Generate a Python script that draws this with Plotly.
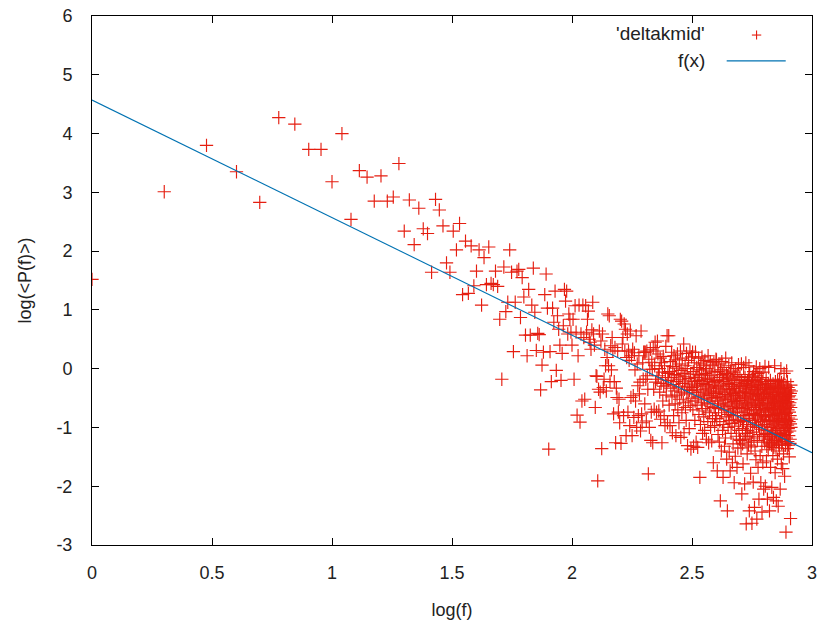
import numpy as np
import plotly.graph_objects as go

# ---- data: log(<P(f)>) for frequency index f = 1 .. 820 ----
y_f001_040 = [1.52, 3.01, 3.80, 3.35, 2.83, 4.27, 4.16, 3.73, 3.73, 3.18,
              4.00, 2.54, 3.37, 3.26, 2.85, 3.28, 2.85, 2.92, 3.49, 2.34,
              2.87, 2.11, 2.73, 2.38, 2.30, 1.64, 2.88, 2.70, 2.43, 1.80,
              1.64, 2.34, 2.02, 2.47, 1.26, 2.17, 1.28, 2.09, 1.41, 1.66]
y_f041_100 = [2.02, 1.08, 1.89, 1.43, 2.07, 1.45, 1.43, 1.66, 1.40, 0.84,
              -0.18, 1.73, 0.97, 1.13, 2.02, 1.64, 0.29, 1.13, 1.66, 1.69,
              0.87, 1.55, 1.22, 0.57, 0.22, 1.35, 0.57, 1.08, 1.71, 0.96,
              0.31, 0.60, 0.58, -0.36, 0.06, 0.28, 1.26, 1.61, 1.03, -1.37,
              0.29, -0.22, 1.03, 0.79, 1.32, -0.03, 0.90, 0.67, 0.40, -0.20,
              0.26, 0.73, 1.35, 1.15, 1.32, 0.59, 0.93, 0.84, 0.62, 0.40]
y_f101_126 = [0.84, -0.18, 1.07, 0.62, -0.79, 0.22, 1.08, -0.91, 0.59, -0.55,
              1.08, 0.53, -0.52, 1.07, 0.62, 0.84, 0.98, 0.50, 0.45, 0.33,
              0.66, 1.13, 0.59, 0.40, -0.66, -0.12]
y_f127_158 = [-0.13, -1.91, -0.35, 0.64, -0.40, 0.47, -1.36, 0.59, -0.32, -0.18,
              0.33, 0.05, -0.38, 0.19, 0.93, 0.05, 0.90, -0.22, 0.39, -0.02,
              0.53, 0.30, -0.77, -0.22, 0.36, -1.26, -0.33, -0.49, 0.30, -0.74,
              -0.52, -0.92]
y_f159_199 = [0.84, -1.27, 0.81, 0.42, 0.53, -0.80, 0.76, 0.30, 0.67, -1.14,
              0.19, 0.59, -0.74, 0.30, 0.14, -0.97, 0.64, -0.49, 0.22, -1.14,
              0.33, -0.46, -0.83, 0.27, -0.02, -0.55, 0.56, -1.00, 0.08, -0.29,
              -0.80, 0.22, -0.43, -0.23, -1.06, 0.64, -0.77, -0.92, 0.10, -0.18,
              0.28]
y_f200_251 = [0.28, -0.60, 0.28, -0.18, -0.89, 0.30, -0.12, -0.35, -1.79, 0.16,
              -1.00, -0.01, 0.33, -1.22, -0.74, 0.11, -0.01, -1.26, 0.36, -0.35,
              -0.69, 0.05, 0.45, -0.23, 0.30, -0.74, -0.18, 0.47, 0.25, -0.12,
              -0.72, 0.00, -0.40, 0.18, -0.86, -0.25, 0.10, -1.26, -0.06, -0.55,
              0.21, -0.30, -0.80, 0.05, -0.97, -0.15, 0.38, -0.45, -0.28, 0.56,
              -0.92, -0.08]
y_f252_316 = [-0.20, 0.56, -0.62, -0.05, -0.97, 0.12, -0.33, -0.15, 0.28, -0.48,
              -1.09, 0.04, -0.27, -0.80, 0.22, -0.10, -0.38, -0.60, 0.15, -1.14,
              -0.22, 0.01, -0.45, 0.25, -0.70, -0.12, -0.31, -0.92, 0.08, -0.52,
              -0.18, 0.30, -1.17, -0.03, -0.40, -0.75, 0.18, -0.25, -0.08, -0.58,
              0.42, -1.09, -0.35, -0.14, 0.05, -0.66, -0.21, -0.88, 0.26, -0.43,
              0.00, -1.31, -0.30, -0.55, 0.14, -0.17, -1.02, -0.37, 0.30, -0.63,
              -0.09, -1.37, -0.26, 0.20, -0.50]
y_f317_398 = [-0.32, 0.28, -0.70, -0.05, -1.32, -0.41, 0.10, -0.22, -0.88, -0.55,
              0.28, -0.15, -1.25, -0.35, 0.02, -0.62, -0.28, -1.34, -0.10, -0.48,
              0.18, -0.78, -0.20, -0.02, -1.85, -0.40, -0.95, 0.08, -0.30, -0.58,
              -0.12, 0.20, -0.68, -1.10, -0.25, -0.45, 0.05, -0.82, -0.18, -0.52,
              -1.05, 0.14, -0.36, -0.08, -0.72, -0.27, -1.20, 0.00, -0.43, -0.60,
              -0.16, -0.90, 0.22, -0.33, -1.26, -0.50, -0.04, -0.75, -0.22, -0.38,
              0.12, -1.00, -0.64, -0.11, -0.46, -1.23, -0.29, 0.06, -0.85, -0.55,
              -0.19, -1.60, -0.40, 0.10, -0.66, -0.24, -0.97, -0.06, -0.49, -0.80,
              -0.31, 0.16]
y_f399_501 = [-0.42, 0.15, -0.85, -0.20, -1.74, -0.55, -0.05, -1.12, -0.33, -0.68,
              0.08, -0.47, -1.25, -0.15, -0.90, -0.38, -2.25, -0.02, -0.60, -0.28,
              -1.40, -0.75, 0.12, -0.50, -0.10, -1.05, -0.35, -1.85, -0.62, -0.22,
              -0.95, 0.02, -0.44, -1.32, -0.70, -0.18, -0.53, -1.18, 0.18, -0.40,
              -0.82, -0.08, -1.54, -0.30, -0.65, -2.42, -0.12, -0.48, -1.00, -0.25,
              -0.78, 0.05, -0.58, -1.42, -0.36, -0.88, -0.16, -1.74, -0.45, -0.04,
              -0.72, -1.10, -0.27, -0.52, 0.10, -0.93, -0.34, -1.60, -0.64, -0.20,
              -1.28, -0.42, -0.80, -0.06, -0.56, -1.94, -0.31, -0.98, -0.14, -0.68,
              -1.49, -0.46, 0.00, -0.86, -0.24, -1.15, -0.60, -0.38, -1.68, -0.10,
              -0.74, -0.50, -1.35, -0.19, -0.92, 0.07, -0.41, -1.05, -0.66, -0.28,
              -1.20, -0.54, -0.13]
y_f502_630 = [-0.45, -1.22, -0.88, -0.30, -1.35, -0.62, 0.08, -0.20, -2.13, -0.75,
              -0.40, -1.02, -1.28, -0.55, -1.62, -0.33, -0.90, 0.02, -0.68, -1.20,
              -0.25, -0.48, -1.96, -0.80, -0.15, -0.58, -1.10, -0.38, 0.10, -0.72,
              -2.64, -0.28, -0.95, -0.50, -1.15, -1.45, -0.65, -0.22, -1.05, -0.42,
              -0.85, -0.18, -1.30, -0.60, 0.05, -0.35, -2.42, -0.78, -0.10, -1.15,
              -0.52, -0.30, -0.98, -1.78, -0.45, -1.33, -0.70, -1.25, -0.26, -0.62,
              -2.63, -0.40, -0.88, -0.14, -1.08, -0.55, -0.32, -1.93, -0.76, -0.05,
              -0.48, -1.18, -0.20, -0.92, -2.36, -0.36, -0.66, -1.40, -0.12, -0.58,
              -0.84, -0.28, -1.55, -0.44, 0.03, -1.00, -0.70, -2.56, -0.24, -0.52,
              -1.22, -0.38, -0.80, -0.08, -1.68, -0.62, -0.30, -0.96, -0.46, -2.22,
              -0.18, -0.74, -1.12, -0.54, 0.00, -0.35, -1.48, -0.86, -0.27, -0.64,
              -1.94, -0.42, -1.03, -0.15, -0.78, -0.50, -1.32, -2.44, -0.22, -0.60,
              -0.90, -0.33, -1.60, -0.06, -0.70, -1.15, -0.47, -2.05, -0.82]
y_f631_820 = [-0.50, -1.15, -0.95, -0.35, -1.25, -0.68, 0.04, -0.42, -2.00, -0.80,
              -0.28, -1.10, -0.58, -0.18, -0.88, -1.57, -0.40, -1.32, -0.72, -1.05,
              -0.32, -2.22, -0.62, -1.18, -0.98, -0.48, -1.38, -0.25, -0.78, 0.02,
              -0.55, -1.20, -0.36, -0.90, -2.42, -1.28, -0.66, -1.15, -0.44, -0.82,
              -0.20, -1.68, -0.52, -0.30, -1.00, -0.70, -1.12, -1.30, -0.60, -2.02,
              -0.38, -0.86, -1.26, -1.12, -0.50, -0.74, -1.48, -0.26, -0.94, -0.45,
              -2.19, -0.64, -1.34, -1.05, -0.34, -0.80, -1.22, -0.55, 0.05, -0.90,
              -0.40, -1.77, -0.70, -0.22, -1.08, -0.58, -0.30, -1.35, -0.84, -2.25,
              -0.48, -1.22, -0.96, -0.62, -1.18, -0.36, -0.76, -1.54, -0.20, -0.68,
              -1.02, -0.44, -2.34, -0.88, -0.28, -1.25, -0.56, -1.30, -0.92, -0.40,
              -1.40, -0.72, -0.18, -1.10, -0.52, -0.85, -2.05, -0.32, -0.64, -1.15,
              -0.46, 0.00, -0.98, -0.60, -1.62, -0.24, -0.78, -1.28, -0.42, -0.70,
              -0.90, -1.24, -1.20, -0.54, -1.70, -0.34, -0.82, -1.05, -0.48, -0.66,
              -1.45, -0.26, -0.95, -0.58, -0.08, -1.12, -0.74, -0.38, -1.83, -0.86,
              -0.50, -1.00, -1.14, -0.68, -1.30, -0.44, -0.92, -0.60, -2.78, -0.30,
              -0.76, -1.18, -0.52, -0.04, -0.88, -1.08, -0.40, -0.64, -1.36, -0.22,
              -0.96, -0.56, -1.24, -0.70, -0.32, -1.02, -0.48, -0.84, -1.30, -1.14,
              -0.62, -0.90, -0.36, -1.50, -0.74, -0.46, -1.06, -0.58, -1.27, -0.80,
              -1.20, -0.42, -0.94, -2.55, -0.66, -0.28, -1.00, -0.52, -0.86, -0.38]

# fitted line f(x) = fit_a + fit_b * x
fit_a = 4.57
fit_b = -2.0

x_ticks = [0, 0.5, 1, 1.5, 2, 2.5, 3]
x_ticktext = ["0", "0.5", "1", "1.5", "2", "2.5", "3"]
y_ticks = [-3, -2, -1, 0, 1, 2, 3, 4, 5, 6]
y_ticktext = ["-3", "-2", "-1", "0", "1", "2", "3", "4", "5", "6"]

series_name = "'deltakmid'"
fit_name = "f(x)"

# ---- build ----
log_p = np.concatenate([y_f001_040, y_f041_100, y_f101_126, y_f127_158, y_f159_199,
                        y_f200_251, y_f252_316, y_f317_398, y_f399_501, y_f502_630,
                        y_f631_820])
freq = np.arange(1, len(log_p) + 1)
log_f = np.log10(freq)

x_fit = np.array([0.0, 3.0])
y_fit = fit_a + fit_b * x_fit

RED = "#e51e10"
BLUE = "#0072b2"
FONT = "Liberation Sans, Arial, sans-serif"
TXT = "#222222"

fig = go.Figure()
fig.add_trace(go.Scatter(
    x=log_f, y=log_p, mode="markers", name=series_name,
    marker=dict(symbol="cross-thin", size=9.5, color=RED,
                line=dict(color=RED, width=1.15)),
    showlegend=False, cliponaxis=True))
fig.add_trace(go.Scatter(
    x=x_fit, y=y_fit, mode="lines", name=fit_name,
    line=dict(color=BLUE, width=1.1), showlegend=False))

axis_common = dict(showline=True, linecolor="black", linewidth=1,
                   mirror="ticks", ticks="inside", ticklen=7, tickwidth=1,
                   tickcolor="black", showgrid=False, zeroline=False,
                   automargin=False,
                   tickfont=dict(family=FONT, size=18, color=TXT))

fig.update_xaxes(range=[0, 3], tickmode="array", tickvals=x_ticks,
                 ticktext=x_ticktext, ticklabelstandoff=11,
                 title=dict(text="log(f)", font=dict(family=FONT, size=18, color=TXT),
                            standoff=21),
                 **axis_common)
fig.update_yaxes(range=[-3, 6], tickmode="array", tickvals=y_ticks,
                 ticktext=y_ticktext, ticklabelstandoff=15,
                 title=dict(text="log(&lt;P(f)&gt;)", font=dict(family=FONT, size=18, color=TXT),
                            standoff=20),
                 **axis_common)

# gnuplot-style key: text on the left, sample on the right
key_x_text = 0.854
key_y1 = 0.966
key_y2 = 0.915
fig.add_annotation(x=key_x_text, y=key_y1, xref="paper", yref="paper",
                   text=series_name, showarrow=False, xanchor="right", yanchor="middle",
                   font=dict(family=FONT, size=19, color=TXT))
fig.add_annotation(x=key_x_text, y=key_y2, xref="paper", yref="paper",
                   text=fit_name, showarrow=False, xanchor="right", yanchor="middle",
                   font=dict(family=FONT, size=19, color=TXT))
# sample '+' for the points
cx, cy, hw, hh = 0.923, 0.964, 0.0065, 0.0085
fig.add_shape(type="line", xref="paper", yref="paper", x0=cx - hw, x1=cx + hw, y0=cy, y1=cy,
              line=dict(color=RED, width=1.1))
fig.add_shape(type="line", xref="paper", yref="paper", x0=cx, x1=cx, y0=cy - hh, y1=cy + hh,
              line=dict(color=RED, width=1.1))
# sample line for f(x)
fig.add_shape(type="line", xref="paper", yref="paper", x0=0.8815, x1=0.9635, y0=key_y2, y1=key_y2,
              line=dict(color=BLUE, width=1.3))

fig.update_layout(width=819, height=625, autosize=False,
                  margin=dict(l=92, r=7, t=16, b=80),
                  paper_bgcolor="white", plot_bgcolor="white",
                  font=dict(family=FONT, size=18, color=TXT))

fig.write_html("out.html", config={"displayModeBar": False},
               post_script="document.body.style.margin='0';document.body.style.overflow='hidden';")
